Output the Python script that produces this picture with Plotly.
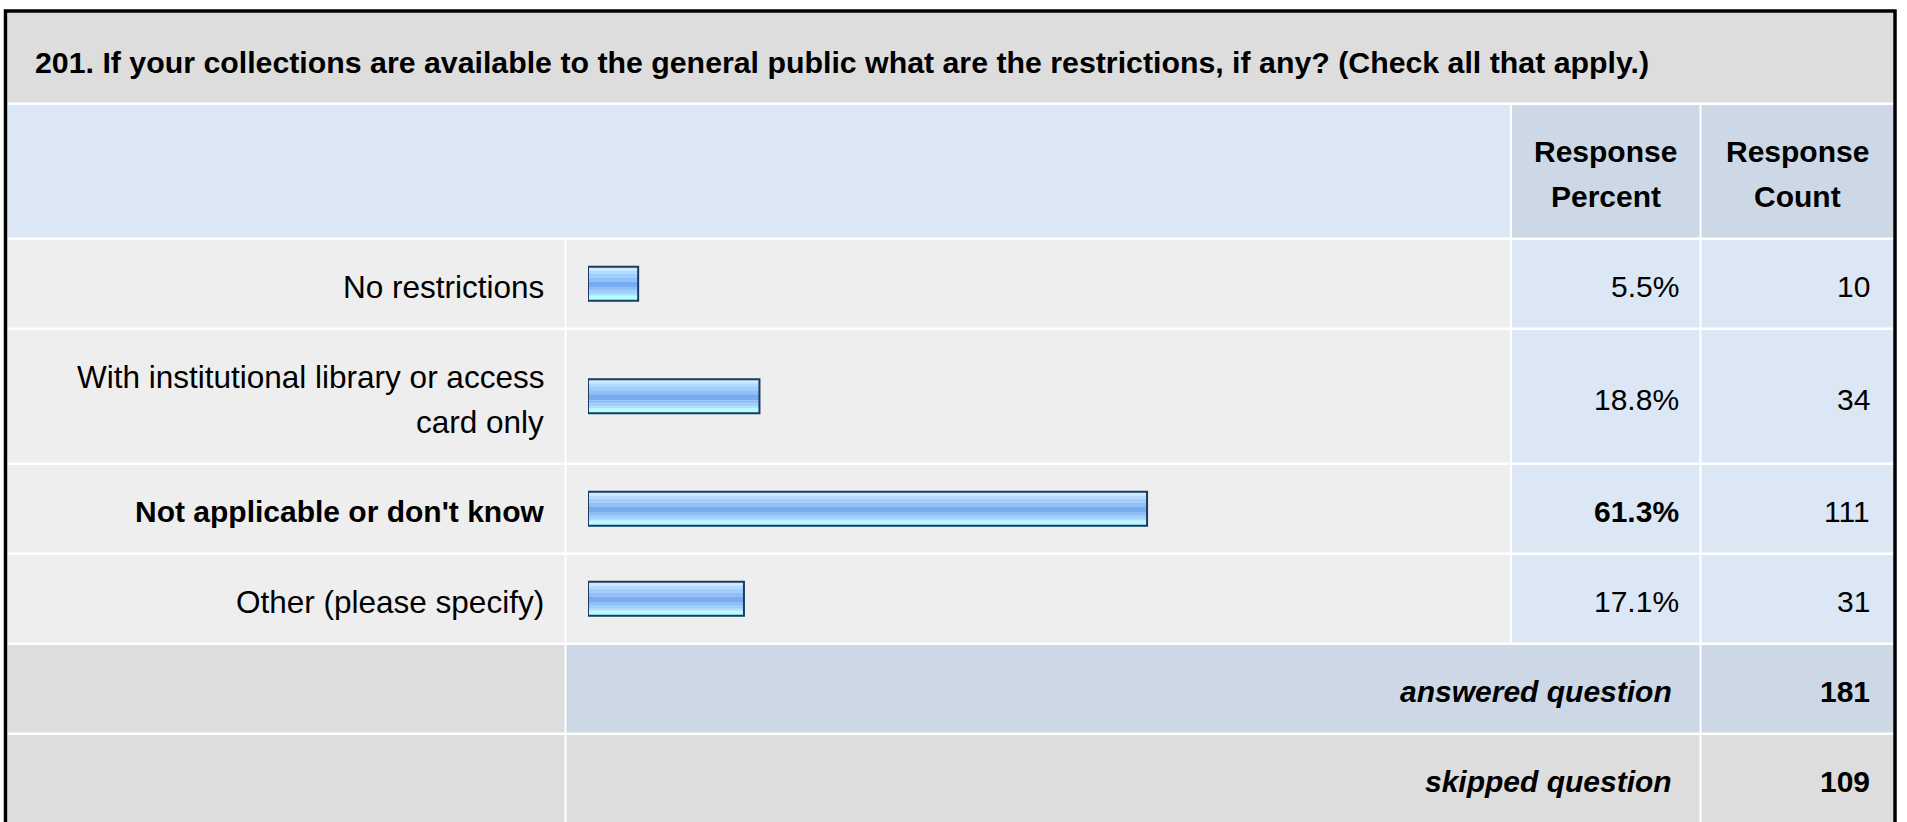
import textwrap
import plotly.graph_objects as go

# ---------------- data ----------------
title_text = ("201. If your collections are available to the general public what are "
              "the restrictions, if any? (Check all that apply.)")
categories = [
    "No restrictions",
    "With institutional library or access card only",
    "Not applicable or don't know",
    "Other (please specify)",
]
percents = [5.5, 18.8, 61.3, 17.1]
counts = [10, 34, 111, 31]
header_labels = ["Response Percent", "Response Count"]
summary_labels = ["answered question", "skipped question"]
summary_counts = [181, 109]

# ---------------- layout constants (page pixel coordinates) ----------------
W, H = 1907, 822
FONT = "Liberation Sans, Arial, Helvetica, sans-serif"
FS = 30          # bold / numeric text
FS_LABEL = 31.5  # regular row labels
LINE = 45
GAP = 2.5
DY = 3           # text baseline nudge

C_TITLE = "#DDDDDD"
C_HEAD = "#DCE7F5"
C_HEAD_DARK = "#CCD8E6"
C_ROW = "#EEEEEE"
C_ROW_BLUE = "#DCE7F5"
C_SUM = "#CCD8E6"
C_SKIP = "#DDDDDD"

# columns (px)
X_L0, X_L1 = 7.5, 564.5      # label column
X_B0, X_B1 = 566.5, 1510     # bar column
X_P0, X_P1 = 1512, 1699.5    # percent column
X_C0, X_C1 = 1701.5, 1893    # count column

BAR_X0 = 588
PX_100 = 912
BAR_H = 36

LABEL_RIGHT = 546
PCT_RIGHT = 1681
CNT_RIGHT = 1872
SUM_RIGHT = 1674


def px(x):
    return x / W


def wrap(s):
    return textwrap.wrap(s, 36)


# vertical layout
TITLE_Y = (12.5, 102.5)
HEAD_Y = (105, 237.5)
row_lines = [wrap(c) for c in categories]
rows = []
y = 240
for ln in row_lines:
    h = 87.5 + LINE * (len(ln) - 1)
    rows.append((y, y + h))
    y += h + GAP
sum_rows = []
for _ in summary_labels:
    sum_rows.append((y, y + 87.5))
    y += 87.5 + GAP

centers = [(a + b) / 2 for a, b in rows]

shapes = []


def rect(x0, x1, y0, y1, color):
    shapes.append(dict(type="rect", xref="paper", yref="y", x0=px(x0), x1=px(x1),
                       y0=y0, y1=y1, fillcolor=color, line=dict(width=0), layer="below"))


# title row
rect(X_L0, X_C1, *TITLE_Y, C_TITLE)
# header row
rect(X_L0, X_B1, *HEAD_Y, C_HEAD)
rect(X_P0, X_P1, *HEAD_Y, C_HEAD_DARK)
rect(X_C0, X_C1, *HEAD_Y, C_HEAD_DARK)
# data rows
for (a, b) in rows:
    rect(X_L0, X_L1, a, b, C_ROW)
    rect(X_B0, X_B1, a, b, C_ROW)
    rect(X_P0, X_P1, a, b, C_ROW_BLUE)
    rect(X_C0, X_C1, a, b, C_ROW_BLUE)
# summary rows
sum_colors = [(C_SKIP, C_SUM, C_SUM), (C_SKIP, C_SKIP, C_SKIP)]
for (a, b), (c1, c2, c3) in zip(sum_rows, sum_colors):
    rect(X_L0, X_L1, a, b, c1)
    rect(X_B0, X_P1, a, b, c2)
    rect(X_C0, X_C1, a, b, c3)

# outer border
shapes.append(dict(type="rect", xref="paper", yref="y", x0=px(5.5), x1=px(1895),
                   y0=11, y1=H + 10, fillcolor="rgba(0,0,0,0)",
                   line=dict(color="#000000", width=3.5), layer="above"))

annotations = []


def text(s, x, yv, anchor="right", bold=False, italic=False, size=FS):
    annotations.append(dict(
        text=s, x=px(x), y=yv + DY, xref="paper", yref="y", xanchor=anchor, yanchor="middle",
        showarrow=False,
        font=dict(family=FONT, size=size, color="#000000",
                  weight="bold" if bold else "normal",
                  style="italic" if italic else "normal")))


# title
text(title_text, 33, sum(TITLE_Y) / 2 + 2, anchor="left", bold=True, size=30.3)
# headers
hc = sum(HEAD_Y) / 2
for lab, (c0, c1) in zip(header_labels, [(X_P0, X_P1), (X_C0, X_C1)]):
    parts = lab.split(" ")
    for i, p in enumerate(parts):
        text(p, (c0 + c1) / 2, hc + (i - (len(parts) - 1) / 2) * LINE, anchor="center", bold=True)

imax = percents.index(max(percents))
for i, (lines, c) in enumerate(zip(row_lines, centers)):
    for j, ln in enumerate(lines):
        text(ln, LABEL_RIGHT, c + (j - (len(lines) - 1) / 2) * LINE, bold=(i == imax),
             size=FS if i == imax else FS_LABEL)
    text(f"{percents[i]:.1f}%", PCT_RIGHT, c, bold=(i == imax))
    text(str(counts[i]), CNT_RIGHT, c)

for lab, cnt, (a, b) in zip(summary_labels, summary_counts, sum_rows):
    text(lab, SUM_RIGHT, (a + b) / 2, bold=True, italic=True)
    text(str(cnt), CNT_RIGHT, (a + b) / 2, bold=True)

# ---------------- bars (striped gradient) ----------------
stripes = [
    (0, 5, "#cfe9ff"),
    (5, 3, "#b4dbff"),
    (8, 4, "#9fcfff"),
    (12, 4, "#8dc0fa"),
    (16, 6, "#78acf0"),
    (22, 3, "#8cc0fa"),
    (25, 3, "#9ccfff"),
    (28, 2, "#a8e0ff"),
    (30, 6, "#b3ffff"),
]

fig = go.Figure()
for top, h, col in stripes:
    fig.add_trace(go.Bar(
        x=percents, y=centers, orientation="h",
        width=[h] * len(percents), offset=-BAR_H / 2 + top,
        marker=dict(color=col, line=dict(width=0)),
        hoverinfo="skip", showlegend=False))
fig.add_trace(go.Bar(
    x=percents, y=centers, orientation="h",
    width=[BAR_H - 2] * len(percents), offset=-(BAR_H - 2) / 2,
    marker=dict(color="rgba(0,0,0,0)", line=dict(color="#1e3a62", width=2)),
    hoverinfo="skip", showlegend=False))

fig.update_layout(
    width=W, height=H,
    margin=dict(l=0, r=0, t=0, b=0),
    paper_bgcolor="#FFFFFF", plot_bgcolor="rgba(0,0,0,0)",
    barmode="overlay",
    xaxis=dict(domain=[px(BAR_X0), px(BAR_X0 + PX_100)], range=[0, 100], visible=False,
               fixedrange=True),
    yaxis=dict(domain=[0, 1], range=[H, 0], visible=False, fixedrange=True),
    shapes=shapes, annotations=annotations,
    showlegend=False,
)

fig.write_html("out.html", config={"displayModeBar": False},
               post_script="document.body.style.margin='0';document.body.style.overflow='hidden';")
